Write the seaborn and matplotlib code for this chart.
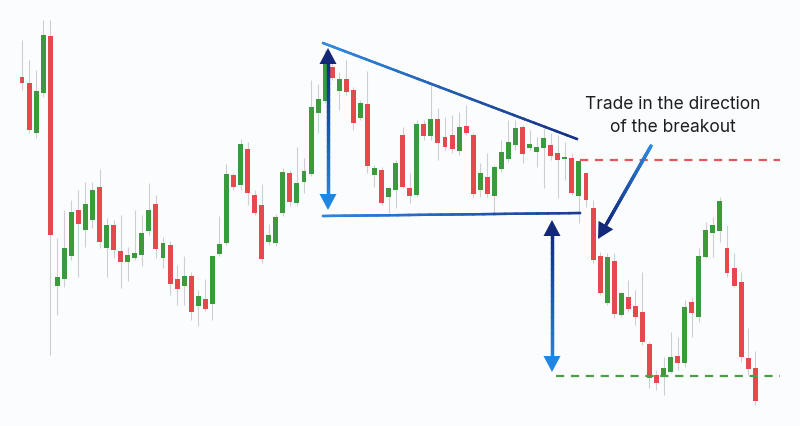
import numpy as np
import pandas as pd
import matplotlib
matplotlib.use("Agg")
import matplotlib.pyplot as plt
import seaborn as sns
from matplotlib.collections import LineCollection
from matplotlib.colors import LinearSegmentedColormap
from matplotlib.patches import Polygon

# candle data (price units)
opens = [349, 343, 293, 333, 390, 140, 147, 170, 216, 196, 206, 239, 178, 201, 175,
         164, 168, 171, 195, 222, 168, 181, 147, 140, 150, 120, 127, 122, 172, 183,
         251, 241, 277, 231, 221, 184, 183, 213, 253, 223, 244, 252, 313, 325, 359,
         335, 347, 336, 308, 322, 251, 256, 229, 236, 291, 238, 231, 302, 290, 307,
         289, 291, 275, 300, 291, 236, 249, 230, 257, 267, 281, 299, 278, 274, 278,
         281, 273, 267, 268, 230, 253, 218, 170, 123, 165, 111, 129, 120, 114, 82,
         51, 51, 54, 70, 63, 124, 109, 169, 193, 195, 178, 158, 144, 68, 58]
closes = [343, 296, 335, 391, 191, 149, 178, 214, 202, 222, 236, 184, 201, 176, 164,
          171, 173, 193, 216, 177, 183, 142, 137, 150, 114, 130, 117, 170, 182, 252,
          239, 282, 233, 213, 167, 191, 209, 254, 224, 243, 255, 319, 327, 364, 348,
          347, 334, 303, 323, 260, 258, 223, 238, 263, 239, 230, 302, 290, 307, 283,
          279, 277, 299, 293, 232, 253, 232, 259, 274, 284, 298, 272, 282, 279, 288,
          270, 266, 269, 233, 265, 226, 166, 133, 169, 112, 133, 117, 109, 84, 48,
          43, 58, 69, 63, 119, 113, 170, 196, 201, 225, 153, 140, 69, 57, 25]
highs = [386, 366, 356, 406, 406, 188, 216, 226, 236, 244, 244, 257, 208, 206, 211,
         179, 216, 211, 243, 231, 189, 185, 161, 170, 154, 136, 147, 170, 210, 262,
         253, 287, 284, 236, 242, 202, 212, 258, 256, 279, 268, 346, 342, 376, 364,
         354, 366, 339, 326, 355, 261, 259, 239, 266, 299, 253, 306, 306, 343, 318,
         309, 311, 314, 321, 293, 263, 273, 261, 286, 306, 306, 301, 296, 289, 298,
         293, 291, 284, 273, 266, 254, 226, 174, 173, 173, 134, 146, 136, 154, 84,
         56, 69, 94, 89, 126, 129, 178, 204, 209, 229, 201, 173, 154, 98, 75]
lows = [336, 293, 288, 329, 71, 111, 139, 166, 149, 179, 198, 178, 149, 168, 138,
        145, 166, 160, 191, 168, 158, 131, 121, 121, 106, 100, 115, 106, 170, 181,
        236, 236, 221, 211, 163, 181, 180, 210, 220, 220, 233, 250, 293, 323, 346,
        316, 331, 296, 306, 253, 239, 221, 213, 218, 238, 223, 229, 286, 286, 266,
        276, 273, 271, 291, 229, 229, 229, 213, 254, 264, 276, 263, 276, 259, 238,
        266, 228, 246, 231, 203, 219, 163, 131, 121, 108, 109, 114, 101, 81, 38,
        36, 31, 53, 56, 59, 89, 104, 168, 169, 184, 149, 139, 64, 51, 21]

caption = "Trade in the direction\nof the breakout"

df = pd.DataFrame({"open": opens, "close": closes, "high": highs, "low": lows})
df["idx"] = np.arange(len(df))
df["up"] = df["close"] >= df["open"]

sns.set_style("white")
plt.rcParams["font.family"] = ["Inter", "DejaVu Sans"]

BG = "#fbfcfe"
RED = "#e5484d"
GREEN = "#3a9a3c"
NAVY = "#14287a"
LIGHT = "#1f86e4"

fig = plt.figure(figsize=(8, 4.26), dpi=100, facecolor=BG)
ax = fig.add_axes([0, 0, 1, 1])
ax.set_facecolor(BG)

# wicks
ax.vlines(df["idx"], df["low"], df["high"], color="#cdcfd3", lw=0.8, zorder=1)
# bodies
colors = np.where(df["up"], GREEN, RED)
bottoms = np.minimum(df["open"], df["close"])
heights = np.maximum(np.abs(df["close"] - df["open"]), 2)
ax.bar(df["idx"], heights, bottom=bottoms, width=0.7, color=colors, lw=0, zorder=2)

step = 7.05
ax.set_xlim(-22 / step, (800 - 22) / step)
ax.set_ylim(0, 426)
ax.axis("off")

# overlay in pixel space for the annotations
ov = fig.add_axes([0, 0, 1, 1])
ov.set_xlim(0, 800)
ov.set_ylim(426, 0)
ov.patch.set_alpha(0)
ov.axis("off")


def grad_line(x0, y0, x1, y1, c0, c1, lw, n=25):
    t = np.linspace(0, 1, n)
    xs = x0 + (x1 - x0) * t
    ys = y0 + (y1 - y0) * t
    cmap = LinearSegmentedColormap.from_list("g", [c0, c1])
    # solid base line then the colour segments on top, so no seams show
    ov.plot([x0, x1], [y0, y1], color=cmap(0.5), lw=lw, solid_capstyle="butt", zorder=5)
    pts = np.array([xs, ys]).T.reshape(-1, 1, 2)
    segs = np.concatenate([pts[:-1], pts[1:]], axis=1)
    lc = LineCollection(segs, colors=cmap(t[:-1] + 0.5 / n), linewidths=lw,
                        capstyle="projecting", zorder=5)
    ov.add_collection(lc)


def head(tipx, tipy, dx, dy, color, length=16, half=8.5):
    n = np.hypot(dx, dy)
    ux, uy = dx / n, dy / n
    bx, by = tipx - ux * length, tipy - uy * length
    px, py = -uy * half, ux * half
    ov.add_patch(Polygon([[tipx, tipy], [bx + px, by + py], [bx - px, by - py]],
                         closed=True, color=color, lw=0, zorder=6))


# triangle lines
grad_line(323, 43, 577, 139, "#2f8ee3", "#182c80", 1.7)
grad_line(323, 216, 580, 213, "#2a88e0", "#1c3a92", 1.7)

# measured height arrows
grad_line(328, 60, 328, 197, NAVY, LIGHT, 2.3)
head(328, 48, 0, -1, NAVY)
head(328, 210, 0, 1, LIGHT)

grad_line(552, 232, 552, 360, NAVY, LIGHT, 2.3)
head(552, 220, 0, -1, NAVY)
head(552, 372, 0, 1, LIGHT)

# target / breakout levels
ov.plot([580, 780], [160, 160], color="#e2575a", lw=1.6, dashes=(3.7, 3.0), zorder=4)
ov.plot([556, 780], [376, 376], color="#4a9f45", lw=1.6, dashes=(3.7, 3.0), zorder=4)

# pointer arrow
grad_line(651, 146, 606, 225, "#2b8ce3", NAVY, 2.3)
head(598, 239, -53, 93, NAVY)

ov.text(673, 116, caption, ha="center", va="center", fontsize=12.5,
        color="#1e1e1e", linespacing=1.45, zorder=7)

fig.savefig("out.png", dpi=100, facecolor=BG)
